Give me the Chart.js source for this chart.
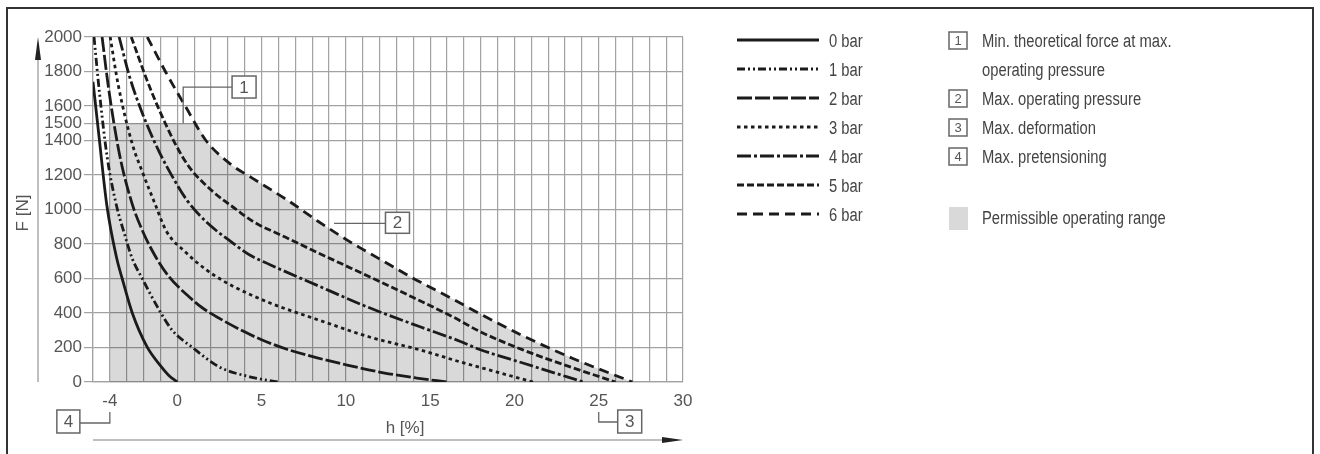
<!DOCTYPE html>
<html>
<head>
<meta charset="utf-8">
<script src="https://cdn.jsdelivr.net/npm/chart.js@4.4.1/dist/chart.umd.min.js"></script>
<style>
    html, body { margin: 0; padding: 0; background: #fff; }
</style>
</head>
<body>
<canvas id="forceChart" width="1320" height="454"></canvas>
<script>
// Force F [N] over stroke h [%], one curve per operating pressure
const bar0 = [[-5, 1740], [-4.65, 1430], [-4.18, 1025], [-3.6, 720], [-3.27, 600], [-2.67, 400], [-1.8, 205], [-1, 95], [-0.5, 38], [0, 0]];
const bar1 = [[-4.94, 2000], [-4.63, 1690], [-4.16, 1304], [-3.6, 1020], [-3.15, 864], [-2.67, 715], [-2.08, 600], [-1.07, 417], [-0.3, 300], [0.9, 200], [2.5, 87], [4.3, 30], [6, 0]];
const bar2 = [[-4.46, 2000], [-4.1, 1720], [-3.45, 1330], [-2.7, 1040], [-2.08, 880], [-1.25, 720], [-0.48, 609], [0.71, 493], [1.5, 429], [2.3, 380], [3.9, 295], [5, 245], [6.5, 190], [8.3, 140], [10, 100], [12.3, 52], [14.2, 23], [16, 0]];
const bar3 = [[-3.98, 2000], [-3.5, 1720], [-2.67, 1380], [-2.08, 1220], [-1.35, 1040], [-0.65, 875], [0.5, 752], [1.72, 650], [2.5, 600], [3.3, 555], [5.5, 458], [8.4, 359], [11.4, 261], [14.4, 186], [16.8, 116], [18.5, 70], [21.1, 0]];
const bar4 = [[-3.45, 2000], [-2.8, 1760], [-2.08, 1560], [-1.1, 1340], [-0.2, 1175], [0.6, 1050], [1.7, 930], [3.3, 805], [4.3, 736], [5.5, 680], [8.3, 560], [11.4, 430], [14.4, 320], [16.8, 235], [17.9, 190], [20.5, 110], [24.1, 0]];
const bar5 = [[-2.73, 2000], [-1.8, 1750], [-1.07, 1577], [-0.06, 1370], [0.71, 1246], [2.1, 1105], [3.5, 1000], [4.5, 930], [6.4, 840], [8, 765], [10.3, 660], [12.5, 560], [14.2, 480], [16.4, 375], [17.9, 295], [20.5, 186], [23.5, 81], [26, 0]];
const bar6 = [[-1.78, 2000], [-0.65, 1790], [0.5, 1595], [1.7, 1400], [3.2, 1260], [4.4, 1185], [6.6, 1050], [8.3, 935], [10.2, 815], [11.2, 758], [12.6, 680], [13.8, 612], [14.6, 570], [16.4, 478], [17.9, 398], [20.5, 268], [23.5, 135], [27, 0]];

const pressureLabels = ['0 bar', '1 bar', '2 bar', '3 bar', '4 bar', '5 bar', '6 bar'];
const curves = [bar0, bar1, bar2, bar3, bar4, bar5, bar6];

// limits of the permissible range
const maxPretension = -4;
const maxForce = 1500;

// axes
const xGridValues = [];
for (let v = -5; v <= 30; v++) xGridValues.push(v);
const xTickLabels = [-4, 0, 5, 10, 15, 20, 25, 30];
const yTicks = [0, 200, 400, 600, 800, 1000, 1200, 1400, 1500, 1600, 1800, 2000];

const notes = [
    ['1', 'Min. theoretical force at max.'],
    ['', 'operating pressure'],
    ['2', 'Max. operating pressure'],
    ['3', 'Max. deformation'],
    ['4', 'Max. pretensioning']
];
const rangeLabel = 'Permissible operating range';

// line styles per pressure
const dashStyles = [[], [8, 3, 2, 3, 2, 3], [15, 3], [3.5, 3.5], [14, 3, 3, 3], [7, 3], [10, 6]];

const toXY = pts => pts.map(([x, y]) => ({ x, y }));

function crossingAt(pts, level) {
    for (let i = 0; i < pts.length - 1; i++) {
        const [x1, y1] = pts[i];
        const [x2, y2] = pts[i + 1];
        if (y1 >= level && y2 <= level) {
            return x1 + (y1 - level) / (y1 - y2) * (x2 - x1);
        }
    }
    return pts[0][0];
}

// shaded area: from max. pretensioning, capped at 1500 N, bounded by the 6 bar curve
const shadePoints = [[maxPretension, maxForce], [crossingAt(bar6, maxForce), maxForce]]
    .concat(bar6.filter(p => p[1] < maxForce));

const tickFont = { family: '"Liberation Sans", Arial, sans-serif', size: 17 };
const textColor = '#555';
const gridColor = '#a2a2a2';
const legendFont = '18px "Liberation Sans", Arial, sans-serif';

const datasets = curves.map((pts, i) => ({
    label: pressureLabels[i],
    data: toXY(pts),
    borderColor: '#1b1b1b',
    borderWidth: 2.8,
    borderDash: dashStyles[i],
    cubicInterpolationMode: 'monotone',
    pointRadius: 0,
    fill: false
}));

datasets.push({
    label: rangeLabel,
    data: toXY(shadePoints),
    borderWidth: 0,
    borderColor: 'rgba(0,0,0,0)',
    backgroundColor: 'rgba(0,0,0,0.15)',
    cubicInterpolationMode: 'monotone',
    pointRadius: 0,
    fill: 'origin'
});

// condensed legend text (no narrow face installed, so squeeze a regular one)
function fillNarrow(ctx, text, x, y) {
    ctx.save();
    ctx.font = legendFont;
    ctx.fillStyle = '#444';
    ctx.textAlign = 'left';
    ctx.textBaseline = 'alphabetic';
    ctx.translate(x, y);
    ctx.scale(0.82, 1);
    ctx.fillText(text, 0, 0);
    ctx.restore();
}

function drawNumberBox(ctx, left, top, w, h, text, size) {
    ctx.fillStyle = '#fff';
    ctx.fillRect(left, top, w, h);
    ctx.strokeStyle = '#666';
    ctx.lineWidth = 1.5;
    ctx.setLineDash([]);
    ctx.strokeRect(left, top, w, h);
    if (text) {
        ctx.fillStyle = '#555';
        ctx.font = size + 'px "Liberation Sans", Arial, sans-serif';
        ctx.textAlign = 'center';
        ctx.textBaseline = 'middle';
        ctx.fillText(text, left + w / 2, top + h / 2 + 1);
    }
}

function polyline(ctx, pts) {
    ctx.beginPath();
    ctx.moveTo(pts[0][0], pts[0][1]);
    pts.slice(1).forEach(p => ctx.lineTo(p[0], p[1]));
    ctx.stroke();
}

const decorations = {
    id: 'decorations',
    afterDraw(chart) {
        const { ctx, chartArea: area, scales: { x, y } } = chart;
        ctx.save();

        // outer frame
        ctx.strokeStyle = '#333';
        ctx.lineWidth = 2;
        polyline(ctx, [[7, 454], [7, 8], [1313, 8], [1313, 454]]);

        // axis arrows
        ctx.strokeStyle = '#aaa';
        ctx.lineWidth = 1.5;
        polyline(ctx, [[38, area.bottom], [38, 56]]);
        polyline(ctx, [[area.left, 440], [area.right - 18, 440]]);
        ctx.fillStyle = '#222';
        ctx.beginPath();
        ctx.moveTo(38, 37); ctx.lineTo(41, 60); ctx.lineTo(35, 60); ctx.closePath();
        ctx.fill();
        ctx.beginPath();
        ctx.moveTo(area.right, 440); ctx.lineTo(area.right - 21, 443); ctx.lineTo(area.right - 21, 437); ctx.closePath();
        ctx.fill();

        // axis titles
        ctx.fillStyle = textColor;
        ctx.font = '17px "Liberation Sans", Arial, sans-serif';
        ctx.textAlign = 'center';
        ctx.textBaseline = 'middle';
        ctx.fillText('h [%]', 405, 428);
        ctx.save();
        ctx.translate(23, 213);
        ctx.rotate(-Math.PI / 2);
        ctx.fillText('F [N]', 0, 0);
        ctx.restore();

        // callouts in the diagram
        ctx.strokeStyle = '#666';
        ctx.lineWidth = 1.3;
        const c1x = x.getPixelForValue(0.35);
        const b1y = y.getPixelForValue(1710);
        const b1x = x.getPixelForValue(3.25);
        polyline(ctx, [[c1x, y.getPixelForValue(maxForce)], [c1x, b1y], [b1x, b1y]]);
        drawNumberBox(ctx, b1x, b1y - 11, 24, 22, '1', 17);

        ctx.strokeStyle = '#666';
        ctx.lineWidth = 1.3;
        const b2y = y.getPixelForValue(920);
        const b2x = x.getPixelForValue(12.35);
        polyline(ctx, [[x.getPixelForValue(9.3), b2y], [b2x, b2y]]);
        drawNumberBox(ctx, b2x, b2y - 11, 24, 21, '2', 17);

        ctx.strokeStyle = '#666';
        ctx.lineWidth = 1.3;
        const c3x = x.getPixelForValue(25);
        polyline(ctx, [[c3x, area.bottom + 30], [c3x, area.bottom + 40], [c3x + 19, area.bottom + 40]]);
        drawNumberBox(ctx, c3x + 19, area.bottom + 28, 24, 23, '3', 17);

        ctx.strokeStyle = '#666';
        ctx.lineWidth = 1.3;
        const c4x = x.getPixelForValue(maxPretension);
        polyline(ctx, [[c4x, area.bottom + 30], [c4x, area.bottom + 41], [c4x - 30, area.bottom + 41]]);
        drawNumberBox(ctx, c4x - 53, area.bottom + 28, 23, 23, '4', 17);

        // legend: pressure curves
        const rowY = i => 40 + i * 29;
        chart.data.datasets.slice(0, curves.length).forEach((ds, i) => {
            ctx.strokeStyle = ds.borderColor;
            ctx.lineWidth = ds.borderWidth;
            ctx.setLineDash(ds.borderDash);
            polyline(ctx, [[737, rowY(i)], [819, rowY(i)]]);
            ctx.setLineDash([]);
            fillNarrow(ctx, ds.label, 829, rowY(i) + 7);
        });

        // legend: notes
        notes.forEach(([num, text], i) => {
            if (num) drawNumberBox(ctx, 949, rowY(i) - 8, 18, 17, num, 13);
            fillNarrow(ctx, text, 982, rowY(i) + 7);
        });
        ctx.fillStyle = '#d9d9d9';
        ctx.fillRect(949, 207, 19, 23);
        fillNarrow(ctx, rangeLabel, 982, 224);

        ctx.restore();
    }
};

new Chart(document.getElementById('forceChart'), {
    type: 'line',
    data: { datasets },
    options: {
        responsive: false,
        animation: false,
        devicePixelRatio: 1,
        layout: { padding: { left: 0, top: 37, right: 637, bottom: 42 }, autoPadding: false },
        plugins: {
            legend: { display: false },
            tooltip: { enabled: false }
        },
        elements: { line: { borderCapStyle: 'butt' } },
        scales: {
            x: {
                type: 'linear',
                min: -5,
                max: 30,
                afterBuildTicks: scale => { scale.ticks = xGridValues.map(v => ({ value: v })); },
                afterFit: scale => { scale.height = 30; },
                grid: { color: gridColor, lineWidth: 1.2, drawTicks: false },
                border: { color: gridColor, width: 1.2 },
                ticks: {
                    autoSkip: false,
                    maxRotation: 0,
                    padding: 9,
                    font: tickFont,
                    color: textColor,
                    callback: value => xTickLabels.includes(value) ? String(value) : ''
                }
            },
            y: {
                type: 'linear',
                min: 0,
                max: 2000,
                afterBuildTicks: scale => { scale.ticks = yTicks.map(v => ({ value: v })); },
                afterFit: scale => { scale.width = 93; },
                grid: { color: gridColor, lineWidth: 1.2, tickLength: 9 },
                border: { color: gridColor, width: 1.2 },
                ticks: {
                    autoSkip: false,
                    padding: 2,
                    font: tickFont,
                    color: textColor,
                    callback: value => String(value)
                }
            }
        }
    },
    plugins: [decorations]
});
</script>
</body>
</html>
